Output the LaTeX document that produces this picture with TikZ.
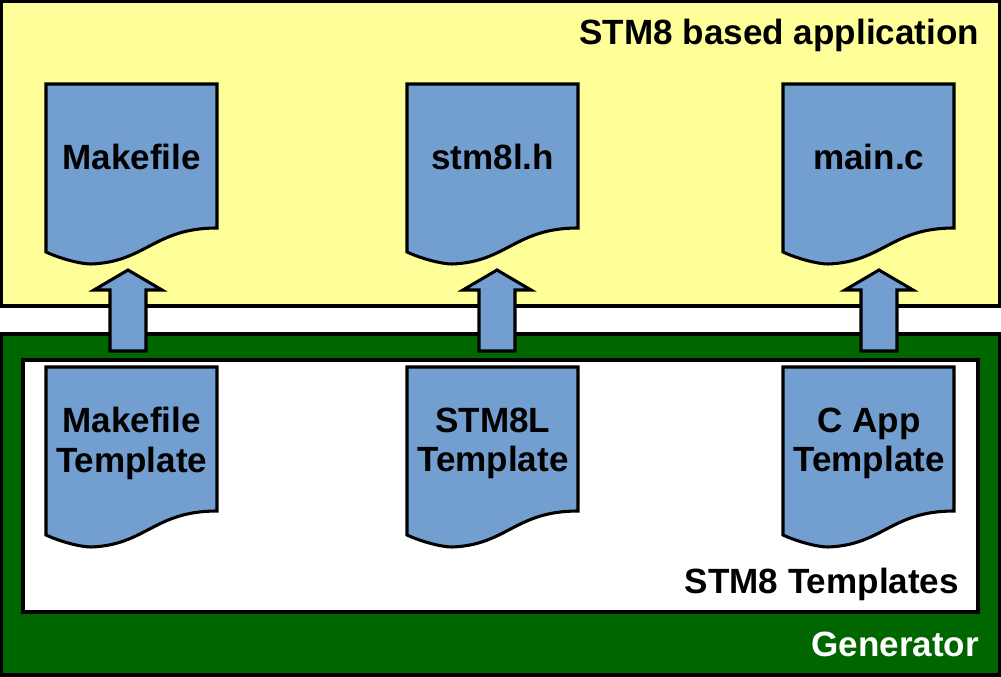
\documentclass[tikz,border=0pt]{standalone}
\usepackage{fontspec}
\setmainfont{Liberation Sans}
\definecolor{yel}{HTML}{FFFF99}
\definecolor{grn}{HTML}{006600}
\definecolor{blu}{HTML}{729FCF}
\tikzset{x=0.75pt,y=-0.75pt,
 panel/.style={draw=black,line width=2.3pt,line join=miter},
 doc/.style={fill=blu,draw=black,line width=2.3pt,line join=miter},
 arr/.style={fill=blu,draw=black,line width=2.3pt,line join=miter},
 lab/.style={font=\bfseries\fontsize{26.3}{29.6}\selectfont,align=center,inner sep=0pt,text=black},
 anch/.style={font=\bfseries\fontsize{26.3}{29.6}\selectfont,anchor=base east,inner sep=0pt}}
\newcommand{\docshape}[2]{%
 \begin{scope}[shift={(#1,#2)}]
 \draw[doc] (0,0) -- (171,0) -- (171,144)
  .. controls (108,144) and (100,178) .. (45,180)
  .. controls (35,180) and (15,175) .. (0,168) -- cycle;
 \end{scope}}
\newcommand{\arrshape}[1]{%
 \begin{scope}[shift={(#1,0)}]
 \draw[arr] (-18,351) -- (-18,290) -- (-34,290) -- (0,270) -- (34,290) -- (18,290) -- (18,351) -- cycle;
 \end{scope}}
\begin{document}
\begin{tikzpicture}
\useasboundingbox (0,0) rectangle (1001,677);
\draw[panel,fill=yel] (1.5,1.5) rectangle (999.5,306);
\draw[panel,fill=grn] (1.5,334) rectangle (999.5,675);
\draw[panel,fill=white] (23,360) rectangle (978,612);
\docshape{46}{84}
\docshape{407}{84}
\docshape{783}{84}
\docshape{46}{367}
\docshape{407}{367}
\docshape{783}{367}
\arrshape{128}
\arrshape{497}
\arrshape{879}
\node[lab] (t1) at (131.7,156.5) {Makefile};
\node[lab] (t2) at (492.7,156.5) {stm8l.h};
\node[lab] (t3) at (868.7,156.5) {main.c};
\node[lab] (t4) at (131.7,443.5) {Makefile\\Template};
\node[lab] (t5) at (492.9,443.5) {STM8L\\Template};
\node[lab] (t6) at (869,443.5) {C App\\Template};
\node[anch] (a) at (979.3,45) {STM8 based application};
\node[anch] (b) at (959.2,594) {STM8 Templates};
\node[anch,text=white] (c) at (979.3,657) {Generator};
\end{tikzpicture}
\end{document}
